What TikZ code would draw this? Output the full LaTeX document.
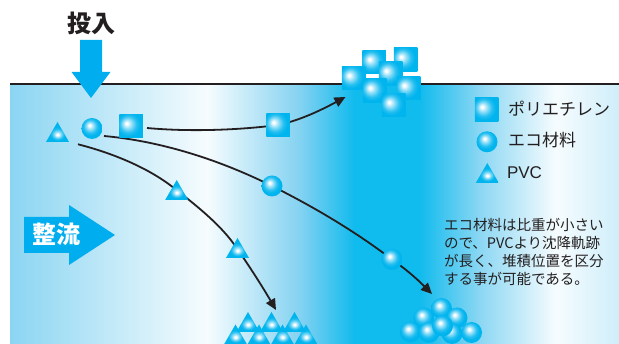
\documentclass[tikz,border=0pt]{standalone}
\usepackage{fontspec}
\newfontfamily\jp{Noto Sans CJK JP}
\newfontfamily\latin{Liberation Sans}
\usetikzlibrary{shapes.geometric,arrows.meta,calc}

\definecolor{ink}{HTML}{231F20}
\definecolor{flow}{HTML}{00AEEF}
\definecolor{pcyan}{HTML}{00B4EE}
% water colours, left to right
\definecolor{wa}{HTML}{8BD5F2}
\definecolor{wb}{HTML}{F6FCFE}
\definecolor{wc}{HTML}{84D2F1}
\definecolor{wd}{HTML}{10BBEE}
\definecolor{we}{HTML}{8CD7F3}
\definecolor{wf}{HTML}{CFEEFA}

\pgfdeclarehorizontalshading{water}{100bp}{color(0bp)=(wa); color(25bp)=(wa);
  color(41.2bp)=(wb); color(48.8bp)=(wc); color(53.3bp)=(wd); color(58.6bp)=(wd);
  color(63.6bp)=(we); color(69.8bp)=(wb); color(75bp)=(wf); color(100bp)=(wf)}
\pgfdeclareradialshading{ecoshade}{\pgfqpoint{-6bp}{8bp}}{color(0bp)=(white);
  color(2bp)=(white); color(8bp)=(pcyan!40); color(16bp)=(pcyan!85);
  color(22bp)=(pcyan); color(50bp)=(pcyan)}
\pgfdeclareradialshading{peshade}{\pgfqpoint{-10bp}{6bp}}{color(0bp)=(white);
  color(2bp)=(white); color(9bp)=(pcyan!40); color(18bp)=(pcyan!85);
  color(25bp)=(pcyan); color(50bp)=(pcyan)}
\pgfdeclareradialshading{pvcshade}{\pgfqpoint{0bp}{-7bp}}{color(0bp)=(white);
  color(2bp)=(white); color(7bp)=(pcyan!45); color(13bp)=(pcyan!88);
  color(17bp)=(pcyan); color(50bp)=(pcyan)}

\pgfdeclarelayer{back}
\pgfdeclarelayer{paths}
\pgfsetlayers{back,paths,main}

\begin{document}
\begin{tikzpicture}[x=1pt,y=-1pt,
  pe/.style={rectangle,minimum size=23.5pt,inner sep=0pt,outer sep=0pt,shade,shading=peshade},
  eco/.style={circle,minimum size=21pt,inner sep=0pt,outer sep=0pt,shade,shading=ecoshade},
  pvc/.style={regular polygon,regular polygon sides=3,minimum size=26.6pt,inner sep=0pt,outer sep=0pt,shade,shading=pvcshade},
  track/.style={draw=ink,line width=1.8pt,-{Triangle[length=11pt,width=10pt]}},
  txt/.style={text=ink,inner sep=0pt,outer sep=0pt}]
\useasboundingbox (0,0) rectangle (619,344);

% water body and surface
\begin{pgfonlayer}{back}
  \shade[shading=water] (10,84) rectangle (619,344);
  \draw[ink,line width=2pt] (10,84) -- (619,84);
\end{pgfonlayer}

% feed arrow
\fill[flow] (80,40) -- (102,40) -- (102,72) -- (110.5,72) -- (91,98)
  -- (71.5,72) -- (80,72) -- cycle;
\node[txt,font=\jp\bfseries\fontsize{24}{24}\selectfont] (feed) at (91,23) {投入};

% flow arrow
\fill[flow] (24,217) -- (69,217) -- (69,205) -- (115,235) -- (69,265)
  -- (69,253) -- (24,253) -- cycle;
\node[txt,text=white,font=\jp\bfseries\fontsize{24}{24}\selectfont] (flowtx) at (56,234.5) {整流};

% particles at the inlet and on their way
\node[pvc] (tri0) at (57.5,135.3) {};
\node[eco] (sph0) at (92,128.5) {};
\node[pe]  (sq0)  at (131,126) {};
\node[pe]  (sq1)  at (278,125) {};
\node[eco] (sph1) at (272,186) {};
\node[eco] (sph2) at (392,259.5) {};
\node[pvc] (tri1) at (176.7,193.3) {};
\node[pvc] (tri2) at (237.5,251.3) {};

% floating polyethylene
\node[pe] (cl2) at (374,62) {};
\node[pe] (cl1) at (353.5,78) {};
\node[pe] (cl3) at (405.5,59.5) {};
\node[pe] (cl4) at (390.5,73.5) {};
\node[pe] (cl5) at (374.5,90.5) {};
\node[pe] (cl6) at (408.5,88) {};
\node[pe] (cl7) at (393.5,105) {};

% settled PVC
\node[pvc] (pt5) at (235.5,337.8) {};
\node[pvc] (pt6) at (259,337.8) {};
\node[pvc] (pt7) at (282.5,337.8) {};
\node[pvc] (pt8) at (306,337.8) {};
\node[pvc] (pt0) at (248,325.3) {};
\node[pvc] (pt1) at (271.5,325.3) {};
\node[pvc] (pt2) at (294.5,325.3) {};

% settled eco material
\node[eco] (pb1) at (441.5,308.5) {};
\node[eco] (pb2) at (424,318) {};
\node[eco] (pb3) at (457,318) {};
\node[eco] (pb6) at (452,333.5) {};
\node[eco] (pb4) at (410.5,332) {};
\node[eco] (pb5) at (429,332.5) {};
\node[eco] (pb8) at (471.5,332.5) {};
\node[eco] (pb7) at (442.5,326) {};

% trajectories
\begin{pgfonlayer}{paths}
  \draw[track] ($(sq0.center)+(16,2)$) .. controls (190,132) and (240,130) .. (sq1.center)
    .. controls (302,120) and (325,108) .. ($(cl1.center)+(-8,19)$);
  \draw[track] ($(sph0.center)+(12,7.5)$) .. controls (170,142) and (230,165) .. (sph1.center)
    .. controls (320,210) and (360,235) .. (sph2.center)
    .. controls (410,272) and (421,283) .. ($(pb1.center)+(-9.5,-14.5)$);
  \draw[track] ($(tri0.center)+(20.5,9)$) .. controls (120,155) and (155,172) .. ($(tri1.center)+(0,-3)$)
    .. controls (205,212) and (225,230) .. ($(tri2.center)+(0,-2)$)
    .. controls (252,270) and (265,291) .. ($(pt1.center)+(4.5,-15.3)$);
\end{pgfonlayer}

% legend
\node[pe]  (lgpe)  at (486.5,109.5) {};
\node[txt,anchor=west,font=\jp\fontsize{17}{17}\selectfont] (lgpetx) at (508,109) {ポリエチレン};
\node[eco] (lgeco) at (487,141.8) {};
\node[txt,anchor=west,font=\jp\fontsize{17}{17}\selectfont] (lgecotx) at (508,140.5) {エコ材料};
\node[pvc] (lgpvc) at (487.3,176.3) {};
\node[txt,anchor=west,font=\latin\fontsize{17}{17}\selectfont] (lgpvctx) at (507,173) {PVC};

% note
\node[txt,anchor=north west,align=left,font=\jp\fontsize{14.5}{18}\selectfont] (note) at (444,218)
  {エコ材料は比重が小さい\\ので、PVCより沈降軌跡\\が長く、堆積位置を区分\\する事が可能である。};
\end{tikzpicture}
\end{document}
